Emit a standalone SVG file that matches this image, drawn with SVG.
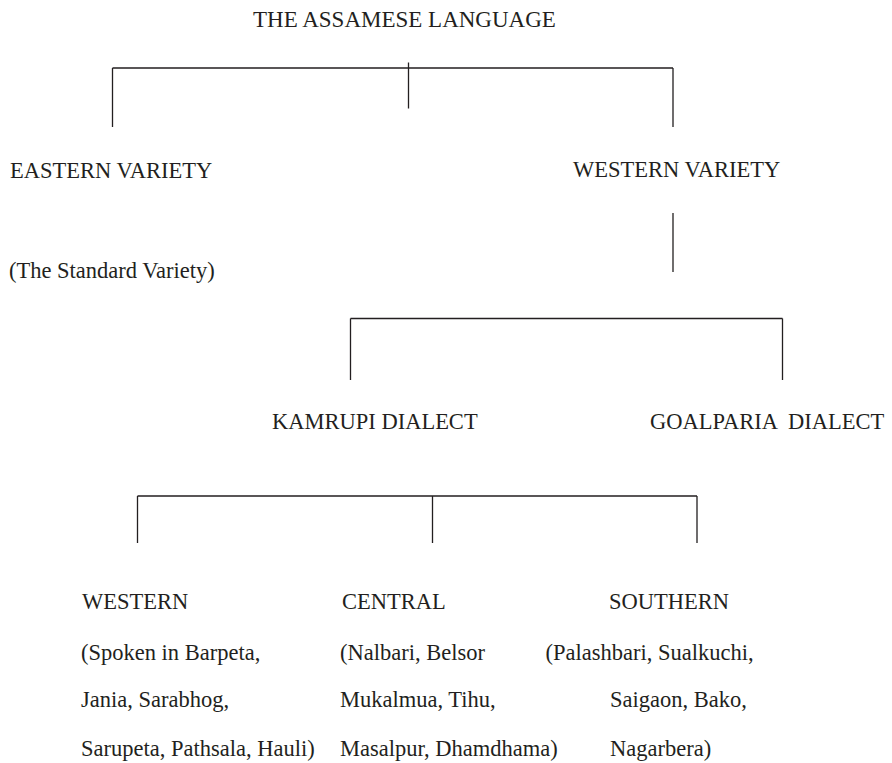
<svg xmlns="http://www.w3.org/2000/svg" width="892" height="763" viewBox="0 0 892 763">
  <style>
    text { font-family: "Liberation Serif", "Times New Roman", serif; font-size: 22.5px; fill: #231f20; }
    .title { font-size: 23px; }
    .link { stroke: #231f20; stroke-width: 1.3; fill: none; }
  </style>
  <rect width="892" height="763" fill="#ffffff"/>

  <!-- tree connectors -->
  <g id="connectors" class="link">
    <!-- language -> two varieties -->
    <path d="M112.5 68 H673 M112.5 68 V127 M673 68 V127 M408.5 62.5 V108.5"/>
    <!-- western variety stem -->
    <path d="M673 213 V272"/>
    <!-- western variety -> dialects -->
    <path d="M350.5 318.5 H782.5 M350.5 318.5 V380 M782.5 318.5 V380"/>
    <!-- kamrupi -> sub-dialects -->
    <path d="M137.5 496 H697 M137.5 496 V543 M432.5 496 V543 M697 496 V543"/>
  </g>

  <g id="root"><text class="title" x="253" y="27">THE ASSAMESE LANGUAGE</text></g>

  <g id="eastern">
    <text x="10" y="178">EASTERN VARIETY</text>
    <text x="9" y="278">(The Standard Variety)</text>
  </g>

  <g id="western-variety"><text x="573" y="177">WESTERN VARIETY</text></g>

  <g id="kamrupi"><text x="272" y="429">KAMRUPI DIALECT</text></g>
  <g id="goalparia"><text x="650" y="429" xml:space="preserve">GOALPARIA  DIALECT</text></g>

  <g id="kamrupi-western">
    <text x="82" y="609">WESTERN</text>
    <text x="81" y="660">(Spoken in Barpeta,</text>
    <text x="81" y="707">Jania, Sarabhog,</text>
    <text x="81" y="756">Sarupeta, Pathsala, Hauli)</text>
  </g>

  <g id="kamrupi-central">
    <text x="342" y="609">CENTRAL</text>
    <text x="340" y="660">(Nalbari, Belsor</text>
    <text x="340" y="707">Mukalmua, Tihu,</text>
    <text x="340" y="756">Masalpur, Dhamdhama)</text>
  </g>

  <g id="kamrupi-southern">
    <text x="609" y="609">SOUTHERN</text>
    <text x="545.5" y="660">(Palashbari, Sualkuchi,</text>
    <text x="610" y="707">Saigaon, Bako,</text>
    <text x="610" y="756">Nagarbera)</text>
  </g>
</svg>
